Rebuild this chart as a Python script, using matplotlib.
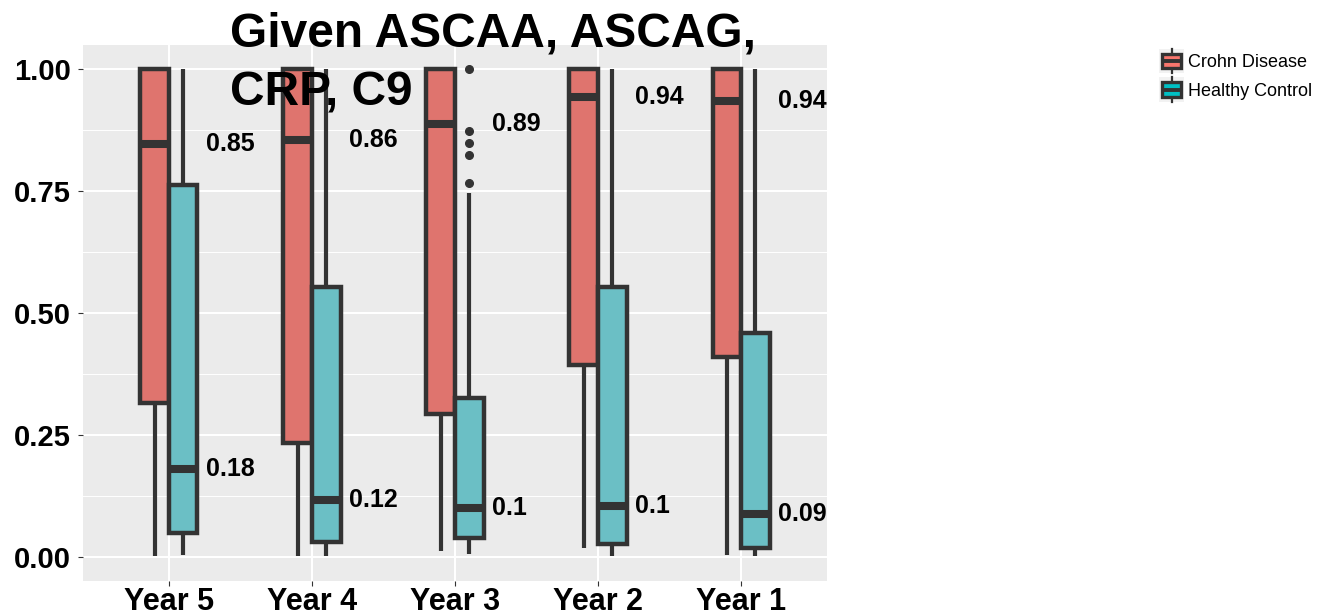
import matplotlib
matplotlib.use("Agg")
import matplotlib.pyplot as plt
import numpy as np
from matplotlib.patches import Patch, Rectangle
from matplotlib.lines import Line2D
from matplotlib.legend_handler import HandlerBase

plt.rcParams['font.family'] = ['Liberation Sans', 'DejaVu Sans']

years = ["Year 5", "Year 4", "Year 3", "Year 2", "Year 1"]
groups = ["Crohn Disease", "Healthy Control"]
box_colors = ["#DF746E", "#6BBFC5"]
key_colors = ["#F8766D", "#00BFC4"]

# box summaries
crohn_lo = [0.002, 0.002, 0.011, 0.018, 0.004]
crohn_q1 = [0.316, 0.234, 0.292, 0.394, 0.410]
crohn_med = [0.846, 0.856, 0.887, 0.943, 0.936]
crohn_q3 = [1.0, 1.0, 1.0, 1.0, 1.0]
crohn_hi = [1.0, 1.0, 1.0, 1.0, 1.0]
crohn_fliers = [[], [], [], [], []]

control_lo = [0.004, 0.002, 0.006, 0.002, 0.001]
control_q1 = [0.049, 0.030, 0.039, 0.025, 0.017]
control_med = [0.179, 0.117, 0.100, 0.103, 0.088]
control_q3 = [0.762, 0.554, 0.326, 0.554, 0.458]
control_hi = [1.0, 1.0, 0.747, 1.0, 1.0]
control_fliers = [[], [], [1.0, 0.873, 0.848, 0.824, 0.767], [], []]

crohn_labels = ["0.85", "0.86", "0.89", "0.94", "0.94"]
control_labels = ["0.18", "0.12", "0.1", "0.1", "0.09"]

DARK = "#333333"


def summaries(lo, q1, med, q3, hi, fl):
    return [dict(whislo=a, q1=b, med=c, q3=d, whishi=e, fliers=f)
            for a, b, c, d, e, f in zip(lo, q1, med, q3, hi, fl)]


class BoxKey(HandlerBase):
    def create_artists(self, legend, orig_handle, xdescent, ydescent,
                       width, height, fontsize, trans):
        x0, y0 = -xdescent, -ydescent
        cx = x0 + width / 2
        bg = Rectangle((x0, y0 - 2), width, height + 4, facecolor="#F2F2F2",
                       edgecolor="none", transform=trans)
        wl = Line2D([cx, cx], [y0 - 2, y0 + height + 2], color=DARK, lw=1.6,
                    transform=trans)
        box = Rectangle((x0 + 0.1 * width, y0 + 0.12 * height), 0.8 * width,
                        0.76 * height, facecolor=orig_handle.get_facecolor(),
                        edgecolor=DARK, lw=2.4, transform=trans)
        med = Line2D([x0 + 0.1 * width, x0 + 0.9 * width],
                     [y0 + height / 2, y0 + height / 2], color=DARK, lw=2.8,
                     solid_capstyle="butt", transform=trans)
        return [bg, wl, box, med]


fig = plt.figure(figsize=(13.28, 6.13), dpi=100)
ax = fig.add_axes([83 / 1328, 32 / 613, 744 / 1328, 536 / 613])
ax.set_facecolor("#EBEBEB")

x = np.arange(len(years)) + 1
data = [
    (summaries(crohn_lo, crohn_q1, crohn_med, crohn_q3, crohn_hi, crohn_fliers), -0.1, box_colors[0]),
    (summaries(control_lo, control_q1, control_med, control_q3, control_hi, control_fliers), 0.1, box_colors[1]),
]
for stats, off, col in data:
    ax.bxp(stats, positions=x + off, widths=0.2, patch_artist=True,
           showcaps=False, manage_ticks=False,
           boxprops=dict(facecolor=col, edgecolor=DARK, linewidth=3.2),
           whiskerprops=dict(color=DARK, linewidth=3.0, solid_capstyle="butt"),
           medianprops=dict(color=DARK, linewidth=5.8, solid_capstyle="butt"),
           flierprops=dict(marker="o", markerfacecolor=DARK,
                           markeredgecolor=DARK, markersize=5.5))

for i in range(len(years)):
    ax.text(x[i] + 0.26, crohn_med[i], crohn_labels[i], fontsize=18,
            fontweight="bold", ha="left", va="center")
    ax.text(x[i] + 0.26, control_med[i], control_labels[i], fontsize=18,
            fontweight="bold", ha="left", va="center")

ax.set_xlim(0.4, 5.6)
ax.set_ylim(-0.05, 1.05)
ax.set_xticks(x)
ax.set_xticklabels(years)
ax.set_yticks([0, 0.25, 0.5, 0.75, 1.0])
ax.set_yticklabels(["0.00", "0.25", "0.50", "0.75", "1.00"])
ax.set_yticks([0.125, 0.375, 0.625, 0.875], minor=True)
ax.grid(which="major", color="white", linewidth=1.5)
ax.grid(which="minor", axis="y", color="white", linewidth=0.7)
ax.set_axisbelow(True)
for s in ax.spines.values():
    s.set_visible(False)
ax.tick_params(which="major", length=3.5, color=DARK, pad=2)
ax.tick_params(axis="x", labelsize=22, pad=1)
ax.tick_params(axis="y", labelsize=21, pad=5)
ax.tick_params(which="minor", length=0)
for lab in ax.get_xticklabels() + ax.get_yticklabels():
    lab.set_fontweight("bold")

fig.text(230 / 1328, 1 - 12 / 613, "Given ASCAA, ASCAG,\nCRP, C9", fontsize=34.5,
         fontweight="bold", ha="left", va="top", linespacing=1.38)

handles = [Patch(facecolor=c) for c in key_colors]
fig.legend(handles, groups, loc="upper left",
           bbox_to_anchor=(1145 / 1328, 1 - 37 / 613), frameon=False,
           fontsize=13, handler_map={Patch: BoxKey()}, handlelength=1.35,
           handleheight=1.25, handletextpad=0.25, labelspacing=0.5,
           borderpad=0.3)

fig.savefig("out.png", dpi=100)
